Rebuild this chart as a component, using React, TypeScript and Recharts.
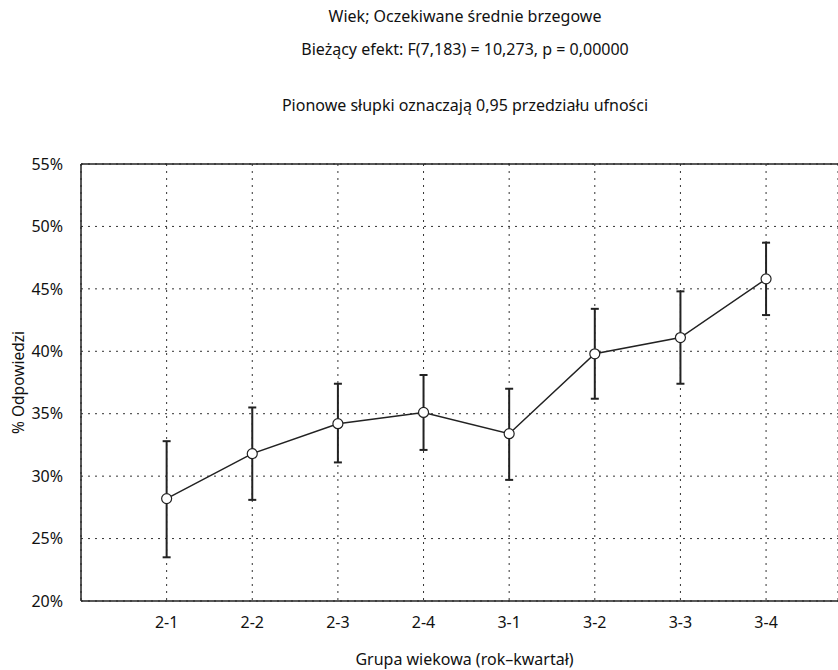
import React from 'react';
import { ComposedChart, Line, ErrorBar, XAxis, YAxis, CartesianGrid, ReferenceLine, Label } from 'recharts';

const categories = ['2-1', '2-2', '2-3', '2-4', '3-1', '3-2', '3-3', '3-4'];
const means = [28.2, 31.8, 34.2, 35.1, 33.4, 39.8, 41.1, 45.8];
const lower = [23.5, 28.1, 31.1, 32.1, 29.7, 36.2, 37.4, 42.9];
const upper = [32.8, 35.5, 37.4, 38.1, 37.0, 43.4, 44.8, 48.7];
const yTicks = [20, 25, 30, 35, 40, 45, 50, 55];
const titleLines = ['Wiek; Oczekiwane średnie brzegowe', 'Bieżący efekt: F(7,183) = 10,273, p = 0,00000'];
const subtitle = 'Pionowe słupki oznaczają 0,95 przedziału ufności';
const xTitle = 'Grupa wiekowa (rok–kwartał)';
const yTitle = '% Odpowiedzi';

const data = categories.map((c, i) => ({
  x: i + 1,
  name: c,
  mean: means[i],
  ci: [means[i] - lower[i], upper[i] - means[i]],
}));

const FONT = '"Noto Sans", "Open Sans", sans-serif';

const titleStyle: React.CSSProperties = {
  position: 'absolute', left: 215, width: 500, textAlign: 'center', fontSize: 16, color: '#111', lineHeight: '20px', whiteSpace: 'nowrap',
};

export default function App() {
  return (
    <div style={{ position: 'absolute', left: 0, top: 0, width: 838, height: 670, background: '#fff', fontFamily: FONT, overflow: 'hidden' }}>
      <div style={{ ...titleStyle, top: 6 }}>{titleLines[0]}</div>
      <div style={{ ...titleStyle, top: 39 }}>{titleLines[1]}</div>
      <div style={{ ...titleStyle, top: 95 }}>{subtitle}</div>
      <ComposedChart
        width={838}
        height={670}
        data={data}
        margin={{ top: 164, right: 0, bottom: 0, left: 0 }}
        style={{ position: 'absolute', left: 0, top: 0 }}
      >
        <CartesianGrid stroke="#333" strokeWidth={1} strokeDasharray="2 5" />
        <XAxis
          type="number"
          dataKey="x"
          domain={[0, 8.84]}
          ticks={[1, 2, 3, 4, 5, 6, 7, 8]}
          tickFormatter={(v) => categories[v - 1] ?? ''}
          allowDataOverflow
          height={69}
          tickLine={false}
          axisLine={{ stroke: '#222', strokeWidth: 1.5 }}
          tick={{ fill: '#111', fontSize: 16, fontFamily: FONT }}
          tickMargin={10}
        >
          <Label value={xTitle} position="insideBottom" offset={5} dx={5} style={{ fill: '#111', fontSize: 16, fontFamily: FONT }} />
        </XAxis>
        <YAxis
          type="number"
          domain={[20, 55]}
          ticks={yTicks}
          tickFormatter={(v) => `${v}%`}
          width={81}
          tickLine={false}
          axisLine={{ stroke: '#222', strokeWidth: 1.5 }}
          tick={{ fill: '#111', fontSize: 16, fontFamily: FONT }}
          tickMargin={12}
          interval={0}
        >
          <Label value={yTitle} angle={-90} position="insideLeft" offset={18} style={{ fill: '#111', fontSize: 15.5, fontFamily: FONT, textAnchor: 'middle' }} />
        </YAxis>
        <ReferenceLine y={55} stroke="#222" strokeWidth={1.5} />
        <Line
          type="linear"
          dataKey="mean"
          stroke="#222"
          strokeWidth={1.5}
          isAnimationActive={false}
          dot={{ r: 5, fill: '#fff', stroke: '#222', strokeWidth: 1.2 }}
        >
          <ErrorBar dataKey="ci" direction="y" width={4} stroke="#222" strokeWidth={2} isAnimationActive={false} />
        </Line>
      </ComposedChart>
    </div>
  );
}
